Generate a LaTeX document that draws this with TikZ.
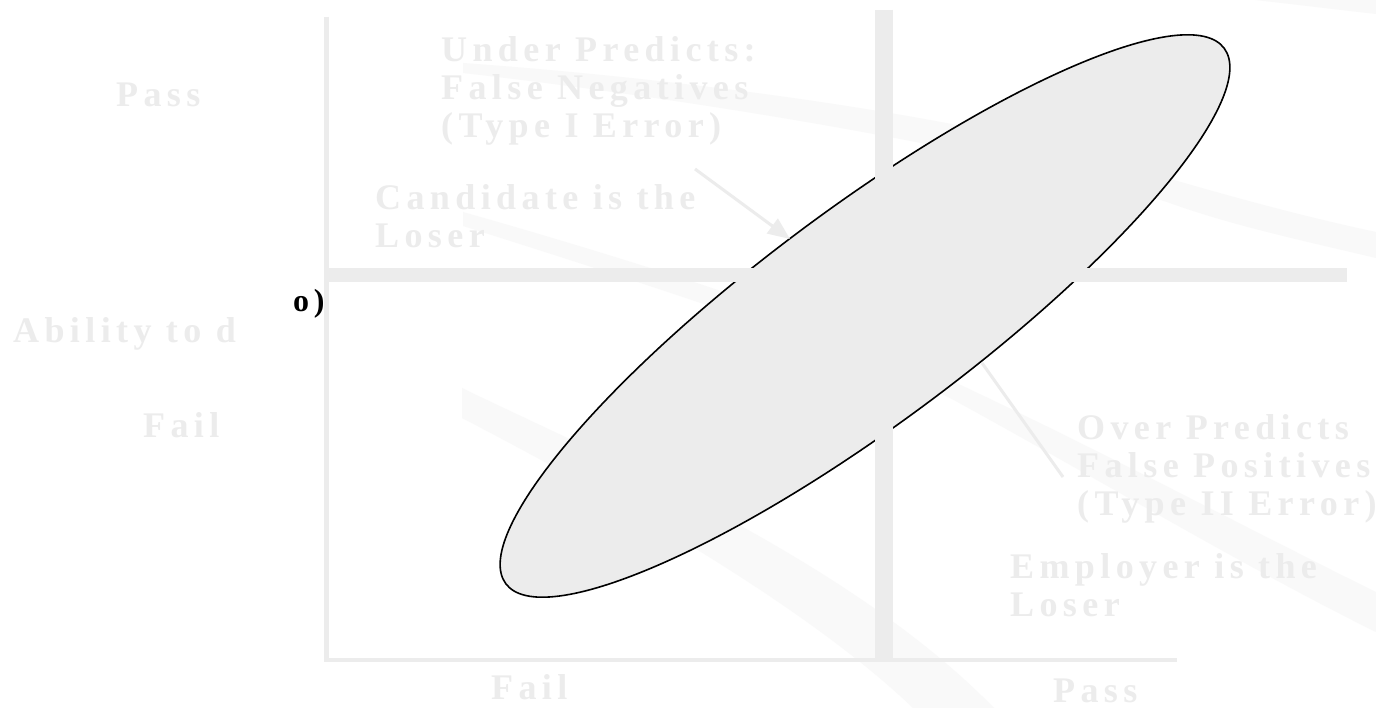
\documentclass[tikz,border=0pt]{standalone}
\usepackage{fontspec}
\setmainfont{Liberation Serif}
\newfontfamily\lblfont[LetterSpace=15]{Liberation Serif}
\usetikzlibrary{arrows.meta,shapes.geometric}
\definecolor{pale}{RGB}{236,236,236}
\definecolor{faint}{RGB}{249,249,249}
\tikzset{
  lbl/.style={text=pale, font=\lblfont\bfseries\fontsize{36}{38}\selectfont,
              anchor=base west, inner sep=0pt, align=left},
  axisline/.style={draw=pale, line cap=butt},
  band/.style={fill=faint, draw=none},
  oval/.style={ellipse, draw=black, line width=1.6pt, fill=pale, inner sep=0pt},
  pointer/.style={draw=pale, line width=3pt},
}
\begin{document}
\begin{tikzpicture}[x=1pt,y=-1pt]
\useasboundingbox[fill=white] (0,0) rectangle (1376,708);

% faint background swooshes
\path[band] (463,63) .. controls (700,80) and (1000,120) .. (1167,178)
            .. controls (1260,205) and (1320,220) .. (1376,232)
            -- (1376,258) .. controls (1300,240) and (1230,225) .. (1167,202)
            .. controls (1000,150) and (700,100) .. (463,73) -- cycle;
\path[band] (463,212) .. controls (650,265) and (850,330) .. (950,380)
            .. controls (1100,450) and (1250,530) .. (1376,592)
            -- (1376,632) .. controls (1250,570) and (1100,480) .. (950,398)
            .. controls (850,350) and (650,285) .. (463,226) -- cycle;
\path[band] (462,388) .. controls (600,455) and (850,560) .. (994,708)
            -- (913,708) .. controls (800,600) and (600,490) .. (462,418) -- cycle;
\path[band] (1255,0) .. controls (1300,5) and (1340,10) .. (1376,14)
            -- (1376,0) -- cycle;

% axes
\draw[axisline, line width=5pt] (326,17) -- (326,662);
\draw[axisline, line width=4pt] (324,660) -- (1177,660);

% ellipse
\node[oval, minimum width=896pt, minimum height=214pt, rotate=36.7] (blob) at (865,316) {};

% dividers
\draw[axisline, line width=14pt] (329,275) -- (1347,275);
\draw[axisline, line width=18pt] (884,10) -- (884,658);

% labels (multi-line nodes are anchored at the baseline of their last line)
\node[lbl] (passy) at (116,107) {Pass};
\node[lbl] (ability) at (13,343) {Ability to d};
\node[lbl] (faily) at (143,437) {Fail};
\node[lbl, text=black, font=\lblfont\bfseries\fontsize{32}{34}\selectfont] (od) at (293,312) {o)};
\node[lbl] (under) at (441,138) {Under Predicts:\\False Negatives\\(Type I Error)};
\node[lbl] (cand) at (375,248) {Candidate is the\\Loser};
\node[lbl] (over) at (1077,515) {Over Predicts\\False Positives\\(Type II Error)};
\node[lbl] (employer) at (1010,616) {Employer is the\\Loser};
\node[lbl, text depth=0pt] (failx) at (491,699) {Fail};
\node[lbl, text depth=0pt] (passx) at (1053,702) {Pass};

% pointers
\coordinate (p1s) at (695,169);
\coordinate (p1e) at (790,239);
\coordinate (p2s) at (1063,477);
\coordinate (p2e) at (982,363);
\draw[pointer, -{Triangle[length=22pt,width=18pt]}] (p1s) -- (p1e);
\draw[pointer] (p2s) -- (p2e);
\end{tikzpicture}
\end{document}
